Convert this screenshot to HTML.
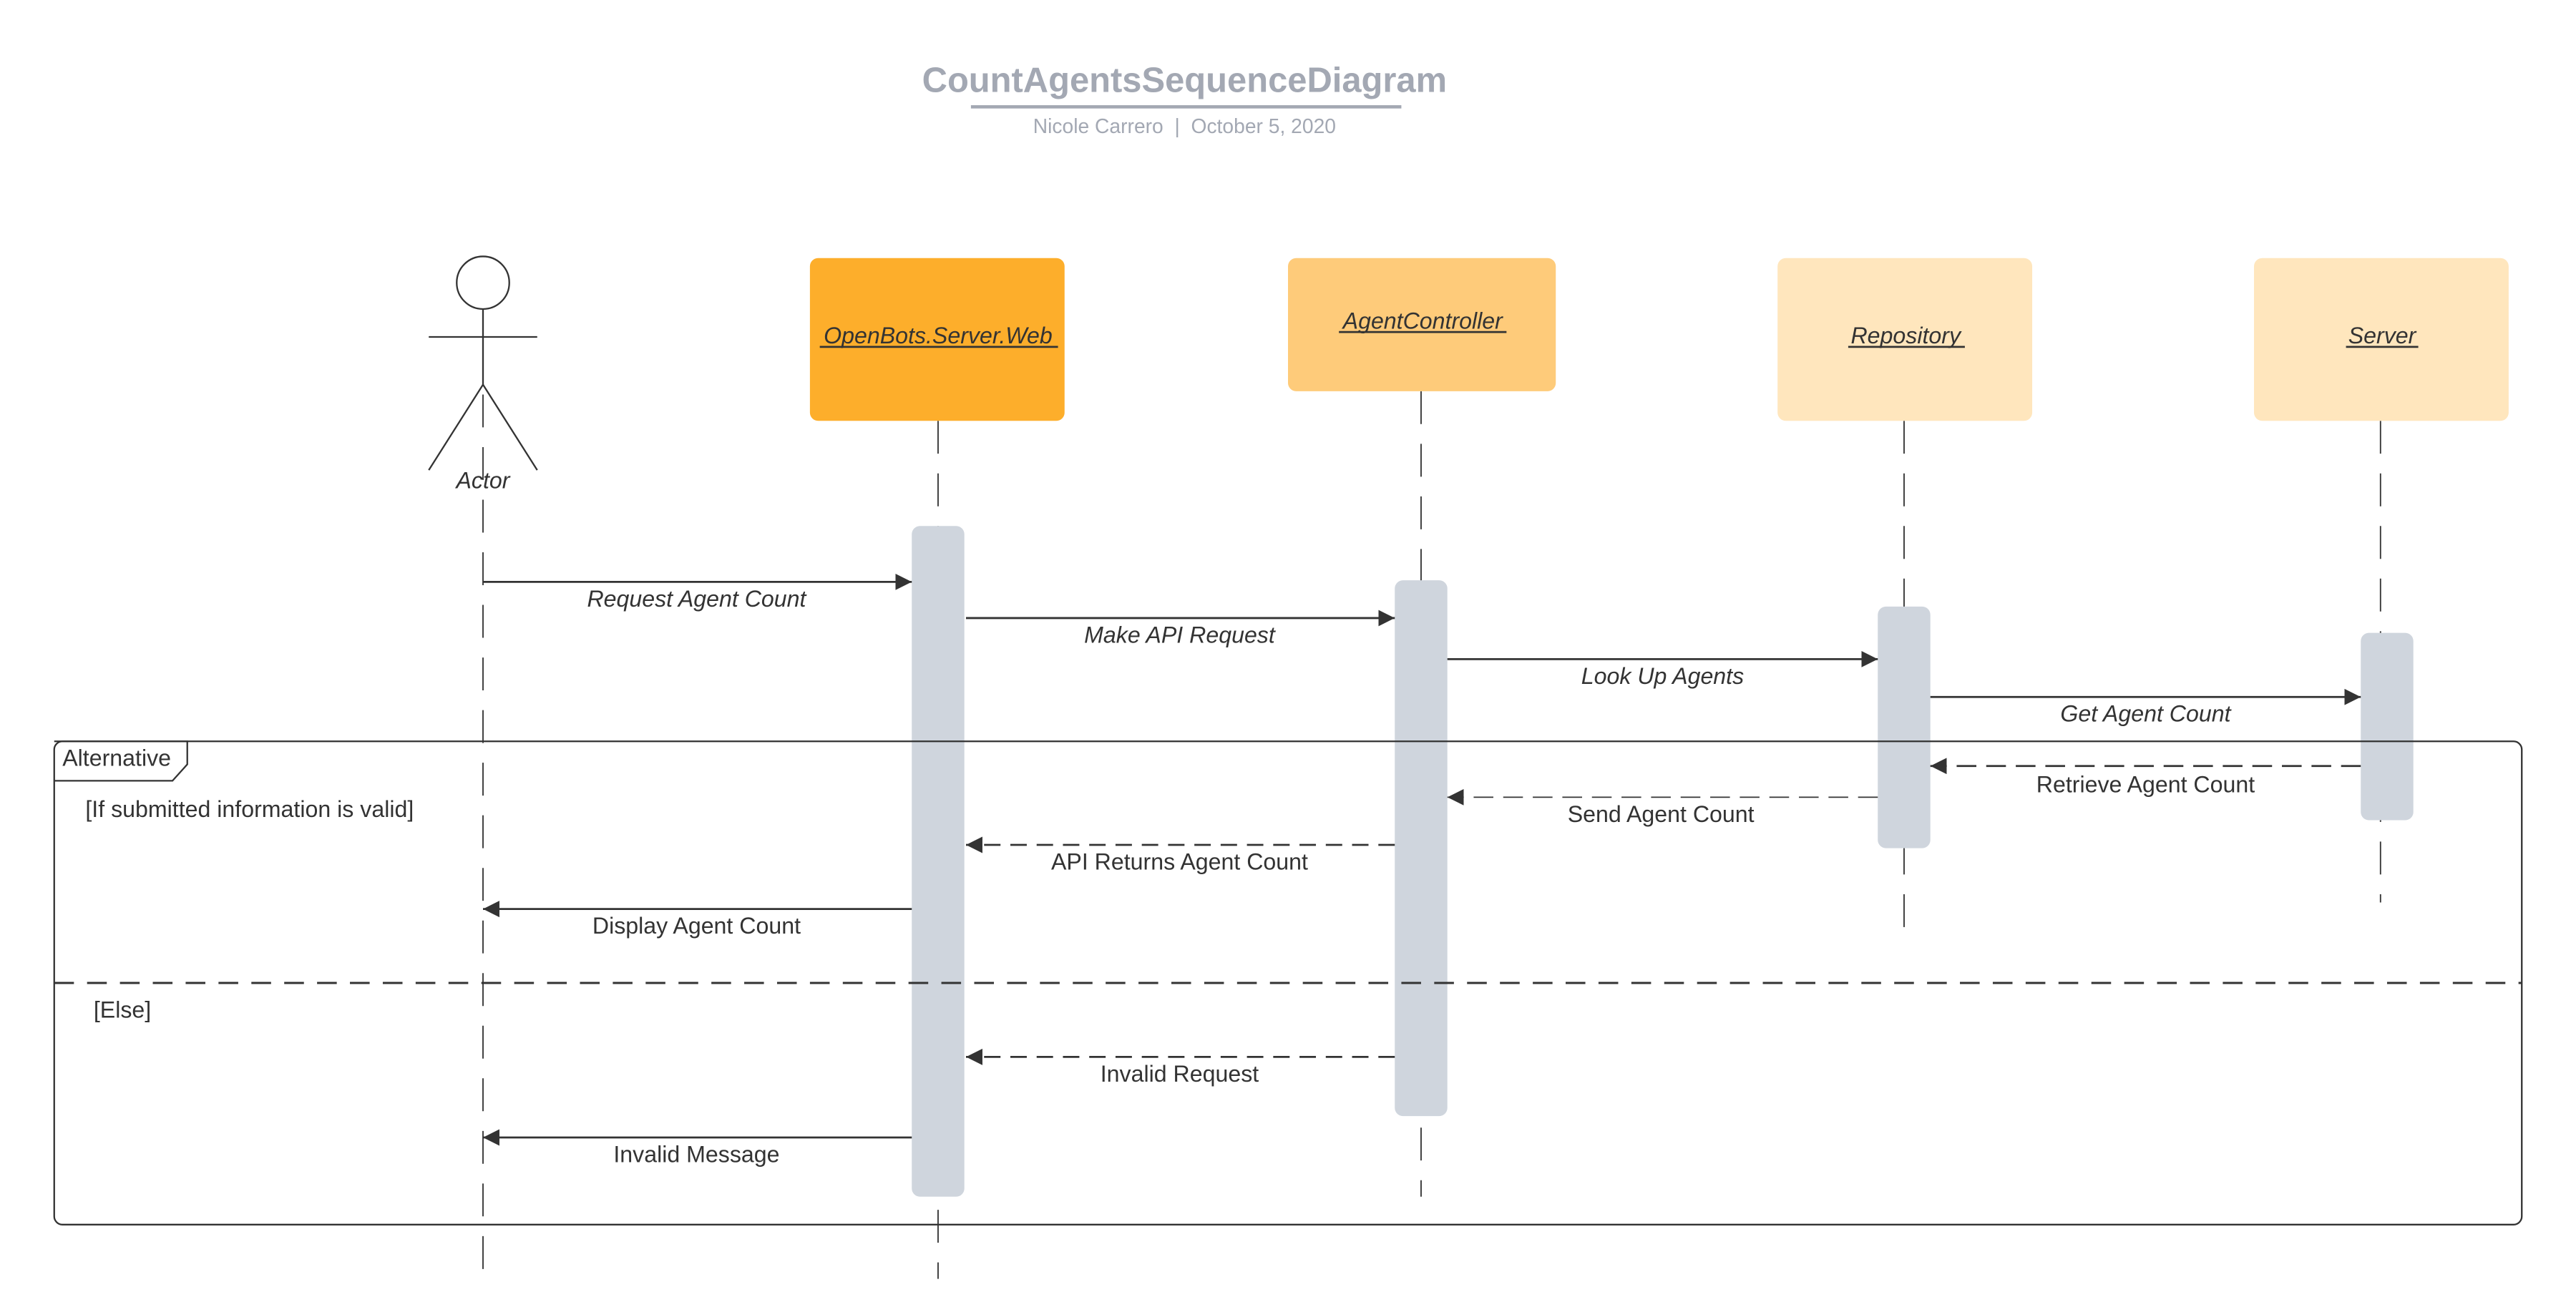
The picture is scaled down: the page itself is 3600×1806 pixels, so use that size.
<!DOCTYPE html>
<html><head><meta charset="utf-8"><style>
html,body{margin:0;padding:0;background:#fff;}
svg{display:block;}
text{font-family:"Liberation Sans",sans-serif;}
</style></head><body>
<svg width="3600" height="1806" viewBox="0 0 1568 786" preserveAspectRatio="none" xmlns="http://www.w3.org/2000/svg">
<defs>
<marker id="ah" viewBox="0 0 10 10" refX="10" refY="5" markerWidth="10" markerHeight="10" markerUnits="userSpaceOnUse" orient="auto"><path d="M0,0 L10,5 L0,10 z" fill="#333"/></marker>
</defs>
<rect width="1568" height="786" fill="#fff"/>
<!-- title -->
<text x="721" y="56" text-anchor="middle" font-size="21.3" font-weight="bold" fill="#a3a8b3">CountAgentsSequenceDiagram</text>
<rect x="591" y="64" width="262" height="2" fill="#a3a8b3"/>
<text x="721" y="81" text-anchor="middle" font-size="12.3" fill="#a3a8b3" xml:space="preserve">Nicole Carrero  |  October 5, 2020</text>

<!-- lifelines -->
<g stroke="#333" stroke-width="0.8" stroke-dasharray="20,12" fill="none">
<line x1="294" y1="240" x2="294" y2="778"/>
<line x1="571" y1="256" x2="571" y2="778"/>
<line x1="865" y1="238" x2="865" y2="728"/>
<line x1="1159" y1="256" x2="1159" y2="566"/>
<line x1="1449" y1="256" x2="1449" y2="549"/>
</g>

<!-- actor -->
<g stroke="#333" stroke-width="1" fill="none">
<circle cx="294" cy="172" r="16" fill="#fff"/>
<line x1="261" y1="205" x2="327" y2="205"/>
<line x1="294" y1="188" x2="294" y2="234"/>
<line x1="294" y1="234" x2="261" y2="286"/>
<line x1="294" y1="234" x2="327" y2="286"/>
</g>
<text x="294" y="297" text-anchor="middle" font-size="14" font-style="italic" fill="#333">Actor</text>

<!-- boxes -->
<rect x="493" y="157" width="155" height="99" rx="5" fill="#fdae2b"/>
<rect x="784" y="157" width="163" height="81" rx="5" fill="#fecb7a"/>
<rect x="1082" y="157" width="155" height="99" rx="5" fill="#ffe6bd"/>
<rect x="1372" y="157" width="155" height="99" rx="5" fill="#ffe6bd"/>
<g font-size="14" font-style="italic" fill="#333" text-anchor="middle">
<text x="571" y="209">OpenBots.Server.Web</text>
<text x="866" y="200">AgentController</text>
<text x="1160" y="209">Repository</text>
<text x="1450" y="209">Server</text>
</g>
<g stroke="#333" stroke-width="1.2">
<line x1="499" y1="211" x2="644" y2="211"/>
<line x1="815" y1="202" x2="917" y2="202"/>
<line x1="1125" y1="211" x2="1196" y2="211"/>
<line x1="1428" y1="211" x2="1472" y2="211"/>
</g>

<!-- activation bars -->
<g fill="#cfd5dd">
<rect x="555" y="320" width="32" height="408" rx="5"/>
<rect x="849" y="353" width="32" height="326" rx="5"/>
<rect x="1143" y="369" width="32" height="147" rx="5"/>
<rect x="1437" y="385" width="32" height="114" rx="5"/>
</g>

<!-- frame -->
<rect x="33" y="451" width="1502" height="294" rx="5" fill="none" stroke="#333" stroke-width="1"/>
<path d="M33,451 L114,451 L114,465 L105,475 L33,475" fill="none" stroke="#333" stroke-width="1"/>
<text x="38" y="466" font-size="14" fill="#333">Alternative</text>
<text x="52" y="497" font-size="14" fill="#333">[If submitted information is valid]</text>
<line x1="33" y1="598" x2="1535" y2="598" stroke="#333" stroke-width="1.3" stroke-dasharray="12,8"/>
<text x="57" y="619" font-size="14" fill="#333">[Else]</text>

<!-- messages -->
<g stroke="#333" stroke-width="1.2" fill="none" marker-end="url(#ah)">
<line x1="294" y1="354" x2="555" y2="354"/>
<line x1="588" y1="376" x2="849" y2="376"/>
<line x1="881" y1="401" x2="1143" y2="401"/>
<line x1="1175" y1="424" x2="1437" y2="424"/>
<line x1="1437" y1="466" x2="1175" y2="466" stroke-dasharray="12,6"/>
<line x1="1143" y1="485" x2="881" y2="485" stroke-dasharray="12,6" stroke-width="0.8"/>
<line x1="849" y1="514" x2="588" y2="514" stroke-dasharray="10,6"/>
<line x1="555" y1="553" x2="294" y2="553"/>
<line x1="849" y1="643" x2="588" y2="643" stroke-dasharray="10,6"/>
<line x1="555" y1="692" x2="294" y2="692"/>
</g>
<g font-size="14" fill="#333" text-anchor="middle">
<text x="424" y="369" font-style="italic">Request Agent Count</text>
<text x="718" y="391" font-style="italic">Make API Request</text>
<text x="1012" y="416" font-style="italic">Look Up Agents</text>
<text x="1306" y="439" font-style="italic">Get Agent Count</text>
<text x="1306" y="482">Retrieve Agent Count</text>
<text x="1011" y="500">Send Agent Count</text>
<text x="718" y="529">API Returns Agent Count</text>
<text x="424" y="568">Display Agent Count</text>
<text x="718" y="658">Invalid Request</text>
<text x="424" y="707">Invalid Message</text>
</g>
</svg>
</body></html>
